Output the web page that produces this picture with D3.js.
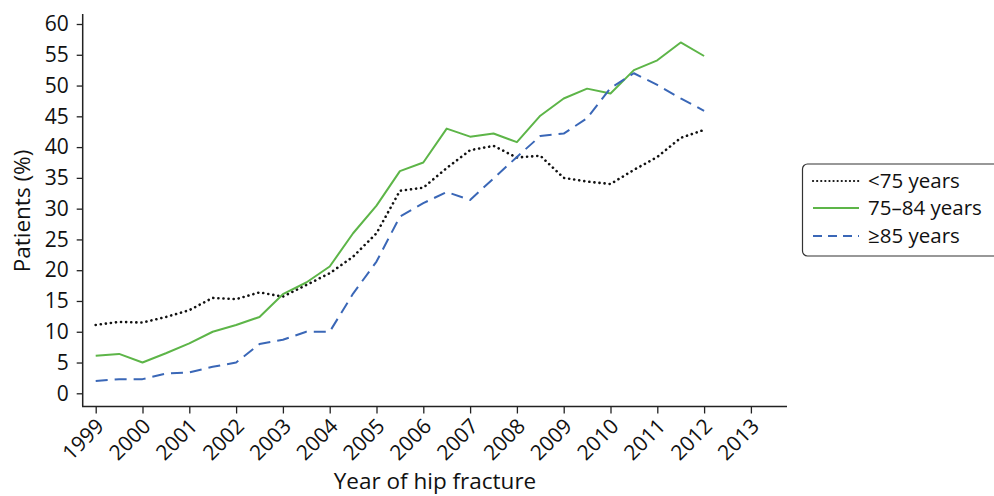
<!DOCTYPE html>
<html><head><meta charset="utf-8">
<script src="https://cdn.jsdelivr.net/npm/d3@7"></script>
<style>body{margin:0;background:#fff;} text{font-family:"Open Sans","Noto Sans",sans-serif;}</style>
</head><body><svg id="c" width="994" height="496"></svg>
<script>
const years = [1999,1999.5,2000,2000.5,2001,2001.5,2002,2002.5,2003,2003.5,2004,2004.5,2005,2005.5,2006,2006.5,2007,2007.5,2008,2008.5,2009,2009.5,2010,2010.5,2011,2011.5,2012];
const under75 = [11.1,11.6,11.5,12.4,13.5,15.5,15.3,16.4,15.7,17.6,19.5,22.2,26.0,32.9,33.4,36.6,39.5,40.2,38.3,38.6,35.0,34.4,34.0,36.3,38.4,41.5,42.8];
const age75to84 = [6.1,6.4,5.0,6.5,8.1,10.0,11.1,12.4,16.1,18.0,20.6,26.0,30.5,36.1,37.5,43.0,41.7,42.2,40.8,45.1,47.9,49.5,48.7,52.5,54.1,57.0,54.8];
const age85plus = [2.0,2.3,2.3,3.2,3.4,4.3,5.0,8.0,8.7,10.0,10.0,16.2,21.4,28.7,30.9,32.7,31.4,34.9,38.4,41.8,42.2,44.7,49.6,52.0,50.1,47.9,45.9];
const xTicks = [1999,2000,2001,2002,2003,2004,2005,2006,2007,2008,2009,2010,2011,2012,2013];
const yTicks = [0,5,10,15,20,25,30,35,40,45,50,55,60];
const seriesNames = ["<75 years","75\u201384 years","\u226585 years"];

const svg = d3.select("#c");
const x = d3.scaleLinear().domain([1999,2013]).range([95.7,750.9]);
const y = d3.scaleLinear().domain([0,60]).range([393.3,24]);

svg.append("line").attr("x1",82.7).attr("x2",82.7).attr("y1",14).attr("y2",406.5).attr("stroke","#222").attr("stroke-width",1.5);
svg.append("line").attr("x1",82).attr("x2",787).attr("y1",406.5).attr("y2",406.5).attr("stroke","#222").attr("stroke-width",1.5);

const yAxis = svg.append("g").attr("transform","translate(82.7,0)")
  .call(d3.axisLeft(y).tickValues(yTicks).tickSize(6).tickPadding(8));
yAxis.select(".domain").remove();
yAxis.selectAll("line").attr("stroke","#222").attr("stroke-width",1.3);
yAxis.selectAll("text").attr("font-size",21).attr("fill","#111").attr("font-family","Open Sans, sans-serif");

const xAxis = svg.append("g").attr("transform","translate(0,406.5)")
  .call(d3.axisBottom(x).tickValues(xTicks).tickFormat(d3.format("d")).tickSize(7));
xAxis.select(".domain").remove();
xAxis.selectAll("line").attr("stroke","#222").attr("stroke-width",1.3);
xAxis.selectAll("text").attr("font-size",21).attr("fill","#111").attr("font-family","Open Sans, sans-serif")
  .attr("text-anchor","end").attr("dy",null).attr("y",null)
  .attr("transform","translate(9,21) rotate(-45)");

svg.append("text").attr("x",435).attr("y",489).attr("text-anchor","middle").attr("font-size",22.5).attr("fill","#111").text("Year of hip fracture");
svg.append("text").attr("transform","translate(30,211) rotate(-90)").attr("text-anchor","middle").attr("font-size",22.5).attr("fill","#111").text("Patients (%)");

const styles = [
  {data:under75, color:"#111", dash:"0.1,5", width:2.6, cap:"round"},
  {data:age75to84, color:"#5db548", dash:null, width:2, cap:"butt"},
  {data:age85plus, color:"#3a67b7", dash:"12,7", width:2, cap:"butt"}
];
const line = d3.line().x((d,i)=>x(years[i])).y(d=>y(d));
styles.forEach(s=>{
  svg.append("path").datum(s.data).attr("d",line).attr("fill","none")
    .attr("stroke",s.color).attr("stroke-width",s.width).attr("stroke-dasharray",s.dash).attr("stroke-linecap",s.cap).attr("stroke-linejoin","round");
});

const lg = svg.append("g");
lg.append("rect").attr("x",802.5).attr("y",164).attr("width",200).attr("height",92).attr("rx",5)
  .attr("fill","#fff").attr("stroke","#333").attr("stroke-width",1.2);
const ly = [181,208,236];
seriesNames.forEach((n,i)=>{
  const s = styles[i];
  lg.append("line").attr("x1",813).attr("x2",859).attr("y1",ly[i]).attr("y2",ly[i])
    .attr("stroke",s.color).attr("stroke-width",i===0?2.2:1.8)
    .attr("stroke-dasharray",i===0?"0.1,4":(i===2?"9,6":null)).attr("stroke-linecap",s.cap);
  lg.append("text").attr("x",868).attr("y",ly[i]+7).attr("font-size",20.5).attr("fill","#111").text(n);
});
</script></body></html>
